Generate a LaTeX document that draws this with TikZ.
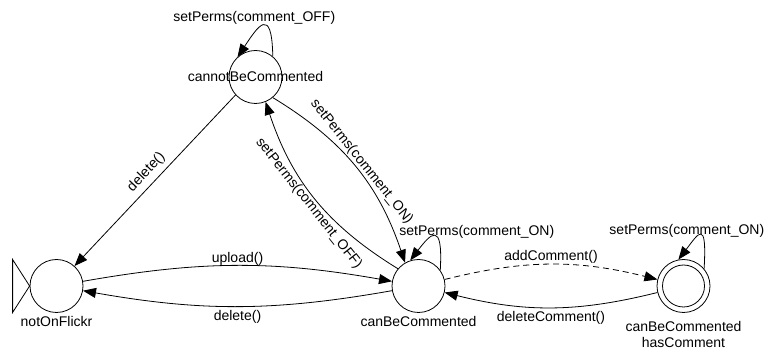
\documentclass[tikz,border=0pt]{standalone}
\usepackage{fontspec}
\setmainfont{Liberation Sans}
\usetikzlibrary{arrows.meta, calc}

\begin{document}
\begin{tikzpicture}[x=1pt,y=1pt,line width=0.8pt,
  font=\fontsize{14}{16}\selectfont,
  st/.style={circle,draw,minimum size=53pt,inner sep=0pt},
  tr/.style={-{Triangle[length=13pt,width=10pt]}},
  lbl/.style={inner sep=1pt}]
\useasboundingbox (0,0) rectangle (765,350);
% States
\node[st,label={[inner sep=2pt,label distance=1pt]below:notOnFlickr}] (notOn) at (56.5,64) {};
\node[st,label={center:cannotBeCommented}] (cannot) at (255.5,273) {};
\node[st,label={[inner sep=2pt,label distance=1pt]below:canBeCommented}] (can) at (418.5,64) {};
\node[st,label={[align=center,inner sep=2pt,label distance=6pt]below:canBeCommented\\hasComment}] (hasC) at (683.5,64) {};
\draw (hasC.center) circle[radius=21pt];
% Initial marker
\draw (notOn.west) -- ++(-17,26.5) -- ++(0,-53) -- cycle;
% Upload and delete
\draw[tr] (notOn) to[bend left=10] node[lbl,above,inner sep=0pt] (upLbl) {upload()} (can);
\draw[tr] (can) to[bend left=10] node[lbl,below,inner sep=4pt] (delLbl) {delete()} (notOn);
\draw[tr] (cannot.-138) -- node[lbl,above,sloped,pos=.5,inner sep=5pt] (delTopLbl) {delete()} (notOn.48);
% Permission changes
\draw[tr] (cannot.-50) to[bend left=20] node[lbl,above,sloped] (onLbl) {setPerms(comment\_ON)} (can.120);
\draw[tr] (can.140) to[bend left=20] node[lbl,below,sloped] (offLbl) {setPerms(comment\_OFF)} (cannot.-68);
% Comments
\draw[tr,dash pattern=on 6pt off 4pt] (can) to[bend left=14] node[lbl,above] (addLbl) {addComment()} (hasC);
\draw[tr] (hasC) to[bend left=14] node[lbl,below,inner sep=3pt] (delCLbl) {deleteComment()} (can);
% Self loops
\draw[tr] (cannot.50) .. controls +(-1,52) and +(20,30) .. (cannot.132)
  node[lbl,pos=.5,above,xshift=-8pt] (offLoopLbl) {setPerms(comment\_OFF)};
\draw[tr] (can.36) .. controls +(3,51) and +(20,26) .. (can.108)
  node[lbl,pos=.5,xshift=43pt,yshift=5pt] (canLoopLbl) {setPerms(comment\_ON)};
\draw[tr] (hasC.40) .. controls +(3,51) and +(20,26) .. (hasC.101)
  node[lbl,pos=.5,xshift=-13pt,yshift=4pt] (hasLoopLbl) {setPerms(comment\_ON)};
\end{tikzpicture}
\end{document}
